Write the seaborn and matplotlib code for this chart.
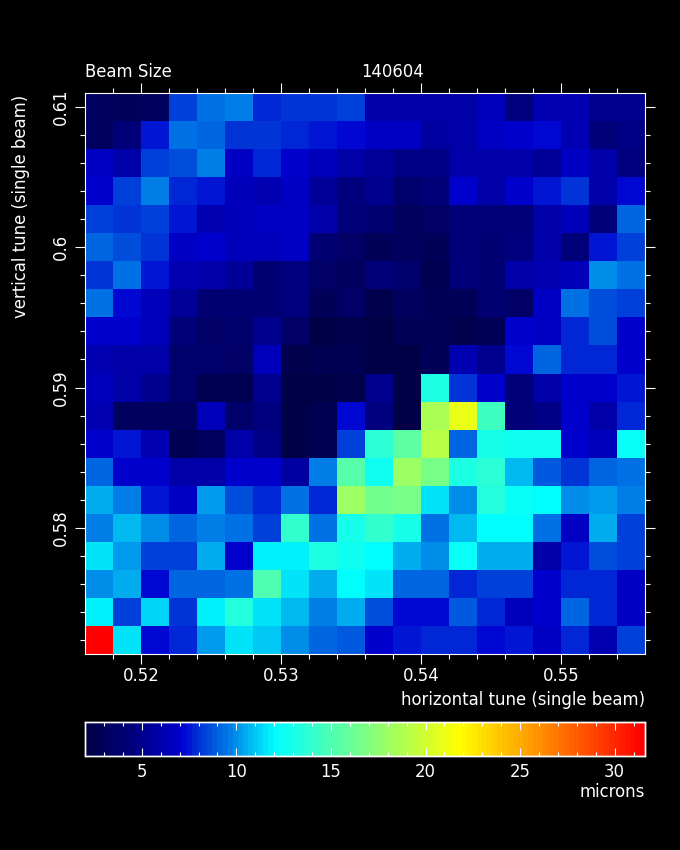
import matplotlib
matplotlib.use("Agg")
import matplotlib.pyplot as plt
import numpy as np
import pandas as pd
import seaborn as sns
from matplotlib.colors import LinearSegmentedColormap

# Horizontal tune at the left edge of each column
horizontal_tune = [0.516, 0.518, 0.520, 0.522, 0.524, 0.526, 0.528, 0.530, 0.532, 0.534,
                   0.536, 0.538, 0.540, 0.542, 0.544, 0.546, 0.548, 0.550, 0.552, 0.554]
# Vertical tune at the middle of each row, top row first
vertical_tune = [0.610, 0.608, 0.606, 0.604, 0.602, 0.600, 0.598, 0.596, 0.594, 0.592,
                 0.590, 0.588, 0.586, 0.584, 0.582, 0.580, 0.578, 0.576, 0.574, 0.572]

# Beam size in microns, top row first
beam_size = [
    [3.2, 3.0, 3.3, 8.2, 9.3, 9.6, 7.9, 8.0, 8.1, 8.4, 6.0, 6.0, 5.9, 5.8, 6.5, 4.6, 6.3, 6.2, 5.0, 5.0],
    [3.2, 4.4, 7.4, 9.3, 9.2, 8.1, 8.1, 7.9, 7.6, 7.3, 6.6, 6.6, 5.7, 6.0, 6.8, 6.9, 7.3, 6.2, 4.2, 4.8],
    [6.8, 6.0, 8.2, 8.5, 9.6, 6.8, 7.7, 6.9, 6.5, 5.9, 5.4, 4.8, 4.8, 5.9, 6.0, 6.0, 5.4, 6.6, 6.0, 4.6],
    [6.9, 8.3, 9.6, 7.9, 7.5, 6.5, 6.2, 6.6, 5.4, 4.6, 5.0, 3.8, 4.2, 7.0, 6.0, 6.9, 7.6, 8.1, 6.0, 7.3],
    [8.2, 8.1, 8.3, 7.5, 6.1, 6.5, 6.6, 6.6, 6.0, 4.2, 4.0, 3.3, 3.5, 4.4, 4.2, 4.2, 6.0, 6.5, 4.4, 9.1],
    [9.0, 8.7, 8.0, 6.8, 6.9, 6.4, 6.5, 6.6, 4.0, 3.6, 2.9, 3.1, 2.9, 4.2, 4.0, 4.6, 6.0, 4.2, 7.4, 8.4],
    [8.0, 9.3, 7.4, 6.2, 6.0, 5.4, 4.0, 4.6, 3.6, 3.3, 4.4, 3.8, 2.7, 4.2, 4.0, 6.0, 6.2, 6.5, 9.9, 9.4],
    [9.3, 7.2, 6.4, 5.4, 4.0, 4.0, 4.0, 4.6, 2.9, 3.6, 2.5, 3.3, 2.9, 2.9, 4.0, 3.6, 6.8, 9.4, 8.5, 8.2],
    [6.9, 6.9, 6.5, 4.4, 3.6, 3.8, 5.0, 3.6, 2.1, 2.5, 2.1, 2.9, 2.9, 2.5, 2.9, 7.0, 6.7, 7.8, 8.7, 7.0],
    [6.2, 5.9, 5.9, 3.8, 3.8, 3.6, 6.5, 2.5, 2.7, 2.7, 2.1, 2.0, 2.9, 6.2, 5.0, 7.2, 9.0, 7.9, 7.9, 7.0],
    [6.4, 6.0, 5.0, 3.8, 2.7, 2.7, 5.0, 2.1, 2.2, 2.4, 5.0, 2.2, 13.2, 8.0, 6.9, 4.2, 6.0, 7.1, 7.1, 7.5],
    [6.2, 3.3, 3.3, 3.3, 6.5, 3.8, 4.6, 2.2, 2.7, 7.2, 4.6, 2.2, 18.6, 21.1, 14.4, 4.2, 4.8, 7.1, 6.0, 7.9],
    [7.1, 7.4, 6.2, 2.7, 3.3, 6.0, 4.8, 2.2, 2.7, 8.2, 13.8, 15.5, 19.0, 9.0, 13.0, 12.6, 12.5, 6.9, 6.5, 12.3],
    [9.1, 6.9, 6.9, 5.9, 5.9, 6.9, 7.0, 5.7, 9.8, 15.3, 12.5, 18.0, 16.7, 13.2, 13.8, 10.7, 8.8, 8.0, 9.0, 9.3],
    [10.4, 9.6, 7.4, 6.8, 10.3, 8.5, 7.7, 9.3, 7.7, 17.9, 16.5, 16.7, 11.6, 9.9, 13.4, 12.3, 12.0, 10.0, 10.3, 9.8],
    [9.8, 10.8, 9.9, 9.2, 9.8, 9.4, 8.3, 14.0, 9.4, 12.8, 14.0, 12.8, 9.3, 10.7, 12.0, 12.0, 9.3, 6.8, 10.5, 8.2],
    [11.5, 10.2, 8.3, 8.2, 10.6, 7.1, 11.8, 11.9, 13.2, 12.6, 12.1, 10.5, 9.9, 12.4, 10.6, 10.4, 6.0, 7.6, 8.5, 8.2],
    [10.0, 10.4, 7.2, 9.0, 9.2, 9.3, 15.0, 11.5, 10.4, 12.0, 11.6, 9.2, 9.2, 7.9, 8.3, 8.3, 6.9, 7.9, 7.7, 6.6],
    [11.9, 8.4, 11.3, 8.0, 11.7, 13.4, 11.5, 10.7, 9.6, 10.5, 8.7, 7.3, 7.2, 8.8, 7.7, 6.5, 7.1, 9.0, 7.7, 6.8],
    [31.6, 11.5, 7.3, 7.9, 10.1, 11.5, 11.1, 10.0, 9.2, 8.8, 7.0, 7.5, 7.7, 7.8, 7.3, 7.5, 6.7, 7.7, 6.2, 8.2],
]

x_major = [0.52, 0.53, 0.54, 0.55]
x_major_labels = ["0.52", "0.53", "0.54", "0.55"]
y_major = [0.61, 0.60, 0.59, 0.58]
y_major_labels = ["0.61", "0.6", "0.59", "0.58"]
cbar_major = [5, 10, 15, 20, 25, 30]
cbar_minor = [3, 4, 6, 7, 8, 9, 11, 12, 13, 14, 16, 17, 18, 19, 21, 22, 23, 24, 26, 27, 28, 29, 31]

W, H = 680, 850
FS = 11.9
FG = "white"

plt.rcParams["font.family"] = ["DejaVu Sans"]
plt.rcParams["axes.linewidth"] = 0.8

# Dark navy to blue to cyan to yellow to red, in small steps like the original
cmap = LinearSegmentedColormap.from_list(
    "tune_jet",
    [(0.0, (0, 0, 70 / 255)),
     (0.09, (0, 0, 132 / 255)),
     (0.17, (0, 0, 210 / 255)),
     (0.20, (0, 50 / 255, 215 / 255)),
     (0.257, (0, 125 / 255, 230 / 255)),
     (0.29, (0, 180 / 255, 240 / 255)),
     (0.34, (0, 1, 1)),
     (0.67, (1, 1, 0)),
     (1.0, (1, 0, 0))],
    N=110,
)

df = pd.DataFrame(beam_size, index=vertical_tune, columns=horizontal_tune)

fig = plt.figure(figsize=(W / 100, H / 100), dpi=100, facecolor="black")
ax = fig.add_axes([85 / W, (H - 654) / H, 560 / W, 561 / H])
cax = fig.add_axes([85 / W, (H - 756) / H, 560 / W, 34 / H])

sns.heatmap(df, ax=ax, cmap=cmap, vmin=2.0, vmax=31.6, cbar_ax=cax,
            cbar_kws={"orientation": "horizontal"}, xticklabels=False, yticklabels=False)


def x_pos(t):
    # cell coordinates of a horizontal tune
    return (t - horizontal_tune[0]) / (horizontal_tune[1] - horizontal_tune[0])


def y_pos(t):
    # cell coordinates of a vertical tune, rows are drawn top down
    return (vertical_tune[0] - t) / (vertical_tune[0] - vertical_tune[1]) + 0.5


ax.set_xticks([x_pos(t) for t in x_major])
ax.set_xticklabels(x_major_labels)
ax.set_xticks([x_pos(t) for t in horizontal_tune[1:] if min(abs(t - m) for m in x_major) > 1e-6], minor=True)
ax.set_yticks([y_pos(t) for t in y_major])
ax.set_yticklabels(y_major_labels, rotation=90, va="center")
ax.set_yticks([y_pos(t) for t in vertical_tune if min(abs(t - m) for m in y_major) > 1e-6], minor=True)
ax.set_xlabel("")
ax.set_ylabel("")

ax.tick_params(which="major", direction="out", length=7.2, width=0.8, color=FG, labelcolor=FG,
               labelsize=FS, top=True, right=True, bottom=True, left=True)
ax.tick_params(axis="x", which="major", pad=2.5)
ax.tick_params(axis="y", which="major", pad=3.5)
ax.tick_params(which="minor", direction="out", length=3.6, width=0.8, color=FG,
               top=True, right=True, bottom=True, left=True)
for s in ax.spines.values():
    s.set_visible(True)
    s.set_color(FG)
    s.set_linewidth(0.8)

# Colour bar
cax.set_xticks(cbar_major)
cax.set_xticklabels([str(v) for v in cbar_major])
cax.set_xticks(cbar_minor, minor=True)
cax.tick_params(which="major", direction="in", length=5.5, width=0.8, color=FG, labelcolor=FG,
                labelsize=FS, top=True, bottom=True, pad=5)
cax.tick_params(which="minor", direction="in", length=3, width=0.8, color=FG, top=True, bottom=True)
for s in cax.spines.values():
    s.set_visible(True)
    s.set_color(FG)
    s.set_linewidth(1.0)

# Titles and labels sit in fixed spots around the axes
fig.text(85 / W, 1 - 72 / H, "Beam Size", color=FG, fontsize=FS, ha="left", va="center")
fig.text(393 / W, 1 - 72 / H, "140604", color=FG, fontsize=FS, ha="center", va="center")
fig.text(645 / W, 1 - 700 / H, "horizontal tune (single beam)", color=FG, fontsize=FS, ha="right", va="center")
fig.text(21 / W, 1 - 95 / H, "vertical tune (single beam)", color=FG, fontsize=FS, rotation=90,
         ha="center", va="top")
fig.text(645 / W, 1 - 792 / H, "microns", color=FG, fontsize=FS, ha="right", va="center")

fig.savefig("out.png", dpi=100, facecolor="black")
